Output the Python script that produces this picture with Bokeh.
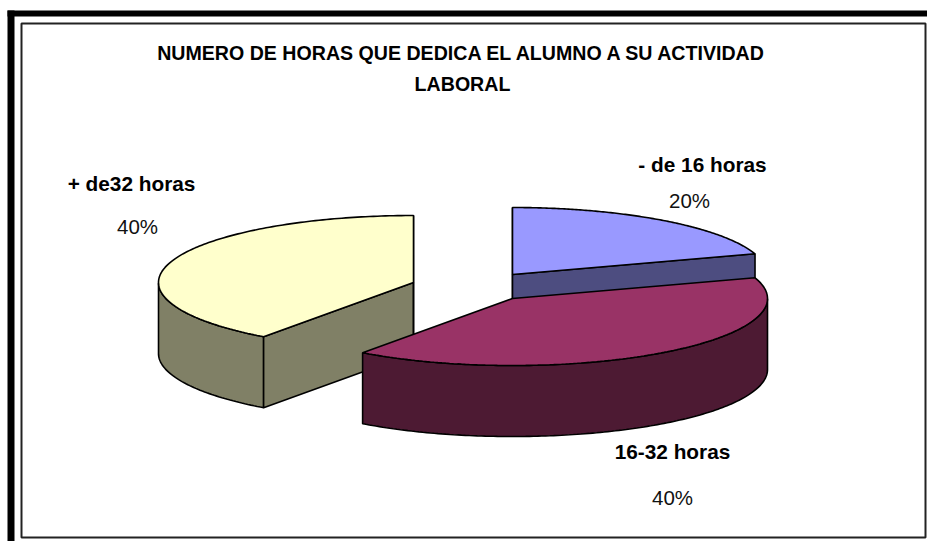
import numpy as np
from bokeh.plotting import figure
from bokeh.core.properties import value
from bokeh.embed import file_html
from bokeh.resources import INLINE

# --- data ---
categories = ["- de 16 horas", "16-32 horas", "+ de32 horas"]
percents = [20, 40, 40]
title_lines = ["NUMERO DE HORAS QUE DEDICA EL ALUMNO A SU ACTIVIDAD", "LABORAL"]
top_colors = ["#9999FF", "#993366", "#FFFFCC"]
side_colors = ["#4D4D80", "#4D1A33", "#808066"]

# --- layout (page pixels) ---
W, H = 927, 541
centers = [(512, 274), (512, 298), (413, 282)]
RX, RY, DEPTH = 255, 67, 71
cat_pos = [(702, 164), (672, 451), (131, 183)]
pct_pos = [(689, 200), (672, 497), (137, 226)]

p = figure(width=W, height=H, x_range=(0, W), y_range=(H, 0),
           toolbar_location=None, output_backend="svg", min_border=0)
p.axis.visible = False
p.grid.visible = False
p.outline_line_color = None
p.background_fill_color = "white"
p.border_fill_color = "white"

# frame
p.quad(left=[21], right=[925], top=[23], bottom=[537], fill_color=None,
       line_color="#222222", line_width=2)
p.quad(left=[7, 7], right=[14, 927], top=[10, 10], bottom=[541, 16],
       fill_color="black", line_color=None)


def ell(cx, cy, th):
    return cx + RX * np.sin(th), cy - RY * np.cos(th)


edges = np.cumsum([0] + percents) / sum(percents) * 2 * np.pi


def draw_slice(i):
    a0, a1 = edges[i], edges[i + 1]
    cx, cy = centers[i]
    th = np.linspace(a0, a1, 160)
    x, y = ell(cx, cy, th)
    bx, by = [], []
    # curved outer wall, only where it faces the viewer
    mask = (th >= np.pi / 2) & (th <= 3 * np.pi / 2)
    if mask.any():
        wx, wy = x[mask], y[mask]
        bx.append(list(wx) + list(wx[::-1]))
        by.append(list(wy) + list((wy + DEPTH)[::-1]))
    # flat cut faces, only those not turned away from the viewer
    for ang, normal in ((a0, a0 - np.pi / 2), (a1, a1 + np.pi / 2)):
        if np.cos(normal) < 1e-6:
            ex, ey = ell(cx, cy, ang)
            bx.append([cx, ex, ex, cx])
            by.append([cy, ey, ey + DEPTH, cy + DEPTH])
    p.patches(bx, by, fill_color=side_colors[i], line_color="black", line_width=1.6)
    p.patch(list(x) + [cx], list(y) + [cy], fill_color=top_colors[i],
            line_color="black", line_width=1.6)


# back to front
for i in (2, 0, 1):
    draw_slice(i)

FONT = value("Liberation Sans")
p.text(x=[462, 462], y=[52, 83], text=title_lines, text_font=FONT, text_font_size="19.6px",
       text_font_style="bold", text_align="center", text_baseline="middle", text_color="black")
p.text(x=[c[0] for c in cat_pos], y=[c[1] for c in cat_pos], text=categories, text_font=FONT,
       text_font_size="20.8px", text_font_style="bold", text_align="center",
       text_baseline="middle", text_color="black")
p.text(x=[c[0] for c in pct_pos], y=[c[1] for c in pct_pos],
       text=[f"{v}%" for v in percents], text_font=FONT, text_font_size="20.5px",
       text_align="center", text_baseline="middle", text_color="#111111")

open("out.html", "w").write(file_html(p, INLINE))
